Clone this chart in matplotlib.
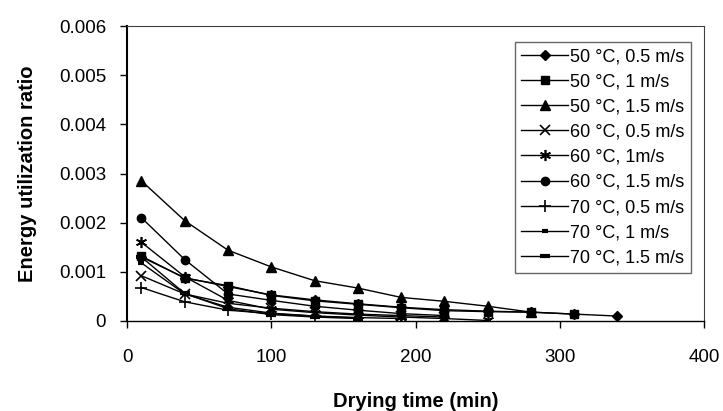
import matplotlib.pyplot as plt

# drying time (min) and energy utilization ratio for each condition
t_all = [10, 40, 70, 100, 130, 160, 190, 220, 250, 280, 310, 340]

eur_50_05 = [0.00130, 0.00088, 0.00070, 0.00053, 0.00043, 0.00035, 0.00028, 0.00023, 0.00020, 0.00018, 0.00014, 0.00010]
eur_50_10 = [0.00132, 0.00087, 0.00072, 0.00052, 0.00041, 0.00034, 0.00027, 0.00021, 0.00019, 0.00018, 0.00014]
eur_50_15 = [0.00285, 0.00204, 0.00144, 0.00110, 0.00082, 0.00067, 0.00048, 0.00040, 0.00030, 0.00018]
eur_60_05 = [0.00092, 0.00055, 0.00036, 0.00026, 0.00019, 0.00014, 0.00011, 0.00008]
eur_60_10 = [0.00160, 0.00090, 0.00042, 0.00024, 0.00017, 0.00012, 0.00008, 0.00005, 0.00001]
eur_60_15 = [0.00210, 0.00125, 0.00055, 0.00042, 0.00030, 0.00022, 0.00015, 0.00011]
eur_70_05 = [0.00068, 0.00039, 0.00022, 0.00015, 0.00010, 0.00007, 0.00005]
eur_70_10 = [0.00118, 0.00055, 0.00028, 0.00016, 0.00010, 0.00006]
eur_70_15 = [0.00130, 0.00056, 0.00025, 0.00013, 0.00008, 0.00005]

labels = ["50 °C, 0.5 m/s", "50 °C, 1 m/s", "50 °C, 1.5 m/s",
          "60 °C, 0.5 m/s", "60 °C, 1m/s", "60 °C, 1.5 m/s",
          "70 °C, 0.5 m/s", "70 °C, 1 m/s", "70 °C, 1.5 m/s"]

series = [eur_50_05, eur_50_10, eur_50_15, eur_60_05, eur_60_10, eur_60_15,
          eur_70_05, eur_70_10, eur_70_15]
markers = [("D", 5, 1), ("s", 6, 1), ("^", 7, 1), ("x", 7, 1.2), ((6, 2, 0), 8, 1.2),
           ("o", 6, 1), ("+", 8, 1.2), ("_", 4, 3), ("_", 7, 3)]

plt.rcParams['font.family'] = ['Liberation Sans', 'DejaVu Sans']

fig = plt.figure(figsize=(7.23, 4.11), dpi=100)
ax = fig.add_axes([0.1757, 0.219, 0.798, 0.7177])

for y, lab, (m, ms, mew) in zip(series, labels, markers):
    ax.plot(t_all[:len(y)], y, color="black", lw=1, marker=m, markersize=ms,
            markeredgewidth=mew, label=lab)

ax.set_xlim(0, 400)
ax.set_ylim(0, 0.006)
ax.set_xticks([0, 100, 200, 300, 400])
ax.set_yticks([0, 0.001, 0.002, 0.003, 0.004, 0.005, 0.006])
ax.set_yticklabels(["0", "0.001", "0.002", "0.003", "0.004", "0.005", "0.006"])
ax.tick_params(direction="out", labelsize=13.5, length=5, width=1)
ax.tick_params(axis="x", pad=15)
ax.tick_params(axis="y", pad=10)

ax.spines["left"].set_linewidth(1.5)
ax.spines["bottom"].set_linewidth(1)
ax.spines["top"].set_color("#404040")
ax.spines["right"].set_color("#404040")

ax.set_xlabel("Drying time (min)", fontsize=14.5, fontweight="bold", labelpad=19)
ax.set_ylabel("Energy utilization ratio", fontsize=14.5, fontweight="bold", labelpad=16)

leg = ax.legend(loc="upper right", bbox_to_anchor=(0.977, 0.946), borderaxespad=0,
                fontsize=13, frameon=True, fancybox=False, edgecolor="#404040",
                handlelength=2.6, labelspacing=0.45, borderpad=0.35, handletextpad=0.1)
leg.get_frame().set_linewidth(1)

fig.savefig("out.png", dpi=100)
